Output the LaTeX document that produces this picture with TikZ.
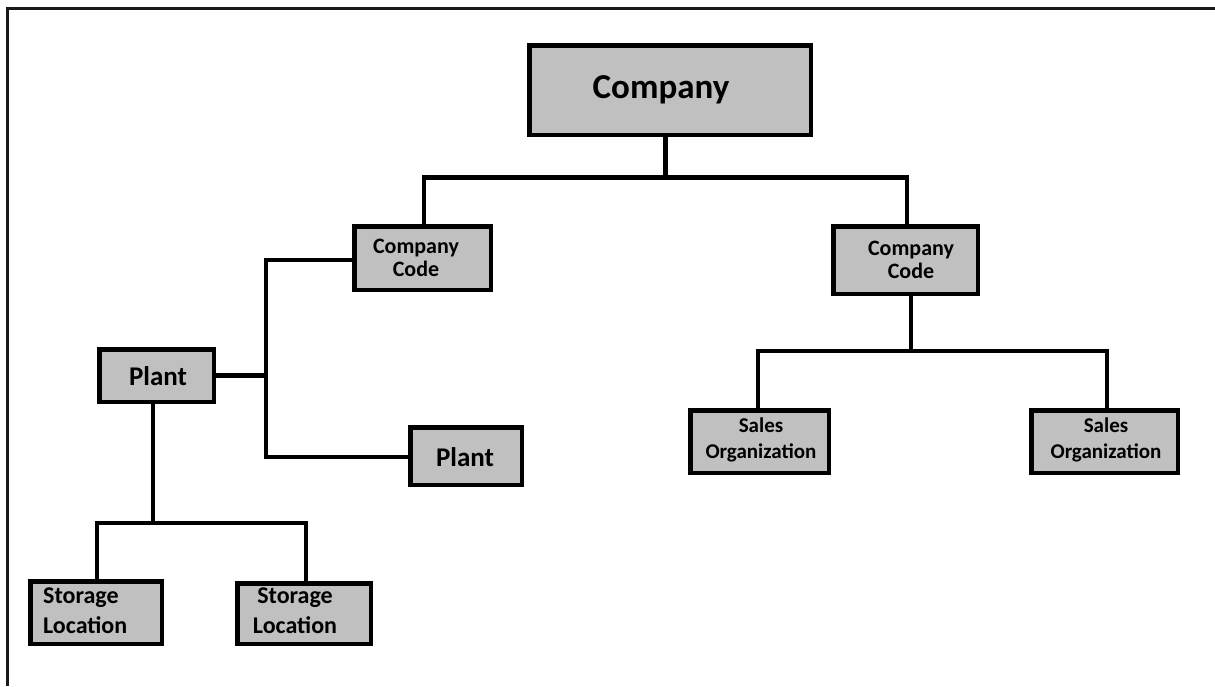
\documentclass[tikz,border=0pt]{standalone}
\usepackage{fontspec}
\setmainfont{Carlito}
\begin{document}
\begin{tikzpicture}[x=1pt,y=-1pt,
  box/.style={draw=black,line width=4.5pt,fill=boxgray,rectangle,inner sep=0pt},
  conn/.style={draw=black,line width=4.7pt,line cap=rect,line join=miter},
  txt/.style={inner sep=0pt,font=\bfseries,text=black},
]
\definecolor{boxgray}{RGB}{192,192,192}
\useasboundingbox (0,0) rectangle (1215,686);
\fill[white] (0,0) rectangle (1215,686);
% frame
\draw[line width=2.2pt,color=black!90] (7.5,686) -- (7.5,8.5) -- (1215,8.5);

% boxes
\node[box,minimum width=281.5pt,minimum height=89.5pt] (comp) at (670,90) {};
\node[box,minimum width=136.5pt,minimum height=63.5pt] (cc1) at (422.5,258) {};
\node[box,minimum width=144.5pt,minimum height=67.5pt] (cc2) at (905.5,260) {};
\node[box,minimum width=114.5pt,minimum height=52.5pt] (p1) at (156.5,375.5) {};
\node[box,minimum width=111.5pt,minimum height=57.5pt] (p2) at (466,456) {};
\node[box,minimum width=131.5pt,minimum height=62.5pt] (sl1) at (96,612.5) {};
\node[box,minimum width=133.5pt,minimum height=60.5pt] (sl2) at (304,613.5) {};
\node[box,minimum width=138.5pt,minimum height=62.5pt] (so1) at (759.5,441.5) {};
\node[box,minimum width=146.5pt,minimum height=62.5pt] (so2) at (1104.5,441.5) {};

% texts
\node[txt,font=\bfseries\fontsize{35}{40}\selectfont] (compt) at (661,90) {Company};
\node[txt,align=center,font=\bfseries\fontsize{22}{23.5}\selectfont] (cc1t) at (416,258) {Company\\Code};
\node[txt,align=center,font=\bfseries\fontsize{22}{23.5}\selectfont] (cc2t) at (911,260) {Company\\Code};
\node[txt,font=\bfseries\fontsize{27}{30}\selectfont] (p1t) at (158,376) {Plant};
\node[txt,font=\bfseries\fontsize{27}{30}\selectfont] (p2t) at (465,457) {Plant};
\node[txt,align=left,anchor=west,font=\bfseries\fontsize{24}{30}\selectfont] (sl1t) at (43,611) {Storage\\Location};
\node[txt,align=center,font=\bfseries\fontsize{24}{30}\selectfont] (sl2t) at (295,611) {Storage\\Location};
\node[txt,align=center,font=\bfseries\fontsize{21}{26}\selectfont] (so1t) at (761,440) {Sales\\Organization};
\node[txt,align=center,font=\bfseries\fontsize{21}{26}\selectfont] (so2t) at (1106,440) {Sales\\Organization};

% junctions
\coordinate (jtop) at (665.5,177.5);
\coordinate (ja) at (266,260);
\coordinate (jb) at (266,457);
\coordinate (jp) at (153,523);
\coordinate (jr) at (911,351);

% connectors
\draw[conn] (comp.south -| jtop) -- (jtop);
\draw[conn] ([xshift=1.5pt]cc1.north) |- (jtop) -| ([xshift=1.5pt]cc2.north);
\draw[conn] (cc1.west |- ja) -- (ja) -- (jb) -- (p2.west |- jb);
\draw[conn] (p1.east) -- (p1.east -| ja);
\draw[conn] (p1.south -| jp) -- (jp);
\draw[conn] ([xshift=1pt]sl1.north) |- (jp) -| ([xshift=2pt]sl2.north);
\draw[conn] (cc2.south -| jr) -- (jr);
\draw[conn] ([xshift=-1.5pt]so1.north) |- (jr) -| ([xshift=2.5pt]so2.north);
\end{tikzpicture}
\end{document}
